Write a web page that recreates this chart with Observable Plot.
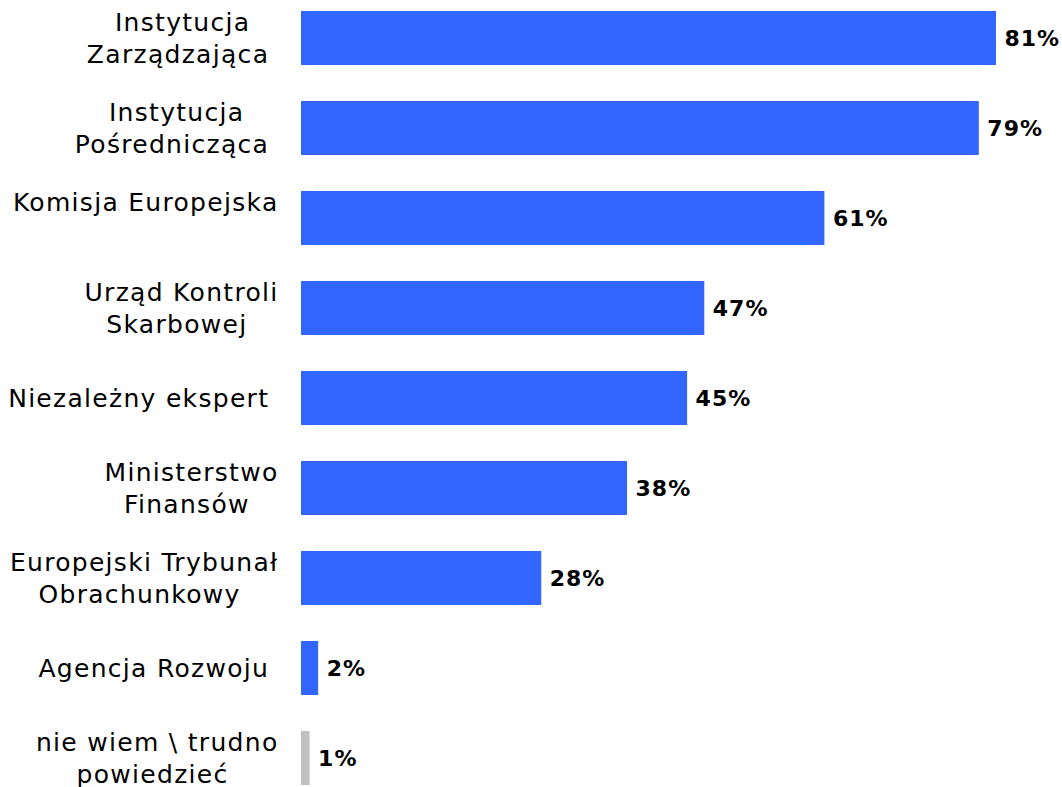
<!DOCTYPE html>
<html>
<head>
<meta charset="utf-8">
<script src="https://cdn.jsdelivr.net/npm/d3@7"></script>
<script src="https://cdn.jsdelivr.net/npm/@observablehq/plot@0.6"></script>
<style>
  html, body { margin: 0; padding: 0; background: #fff; }
</style>
</head>
<body>
<div id="chart"></div>
<script>
const categories = [
  "Instytucja Zarządzająca",
  "Instytucja Pośrednicząca",
  "Komisja Europejska",
  "Urząd Kontroli Skarbowej",
  "Niezależny ekspert",
  "Ministerstwo Finansów",
  "Europejski Trybunał Obrachunkowy",
  "Agencja Rozwoju",
  "nie wiem \\ trudno powiedzieć"
];
const labels = [
  "Instytucja\nZarządzająca ",
  "Instytucja\nPośrednicząca ",
  "Komisja Europejska\n",
  "Urząd Kontroli\nSkarbowej ",
  "Niezależny ekspert ",
  "Ministerstwo\nFinansów ",
  "Europejski Trybunał\nObrachunkowy ",
  "Agencja Rozwoju ",
  "nie wiem \\ trudno\npowiedzieć "
];
const values = [81, 79, 61, 47, 45, 38, 28, 2, 1];
const groups = ["answer", "answer", "answer", "answer", "answer", "answer", "answer", "answer", "none"];

const data = categories.map((c, i) => ({cat: c, label: labels[i], value: values[i], group: groups[i]}));

const plot = Plot.plot({
  width: 1062,
  height: 787,
  marginLeft: 301,
  marginRight: 66,
  marginTop: 0,
  marginBottom: 0,
  style: {fontFamily: "DejaVu Sans", background: "#fff", overflow: "visible"},
  x: {domain: [0, 81], axis: null},
  y: {domain: categories, range: [-7, 803], paddingInner: 0.4, paddingOuter: 0.2, axis: null},
  color: {domain: ["answer", "none"], range: ["#3366FF", "#C0C0C0"]},
  marks: [
    Plot.barX(data, {x: "value", y: "cat", fill: "group"}),
    Plot.text(data, {
      x: 0, y: "cat", text: "label", textAnchor: "end", dx: -23, dy: -1.5,
      lineHeight: 1.28, fontSize: 25, fill: "#000"
    }),
    Plot.text(data, {
      x: "value", y: "cat", text: d => d.value + "%", textAnchor: "start", dx: 8,
      fontSize: 22, fontWeight: "bold", fill: "#000"
    })
  ]
});
document.getElementById("chart").appendChild(plot);

const textGroups = plot.querySelectorAll('g[aria-label="text"]');
const catG = textGroups[0], valG = textGroups[1];
if (valG) valG.style.letterSpacing = "1px";
if (catG) {
  catG.style.letterSpacing = "1.3px";
  catG.style.whiteSpace = "pre";
  // center the lines of each multi-line label within its right-aligned block
  catG.querySelectorAll("text").forEach(t => {
    const spans = t.querySelectorAll("tspan");
    if (spans.length < 2) return;
    const widths = [...spans].map(s => s.getComputedTextLength());
    const W = Math.max(...widths);
    const x0 = +(t.getAttribute("x") || 0);
    t.setAttribute("text-anchor", "middle");
    spans.forEach(s => s.setAttribute("x", x0 - W / 2));
  });
}
</script>
</body>
</html>
